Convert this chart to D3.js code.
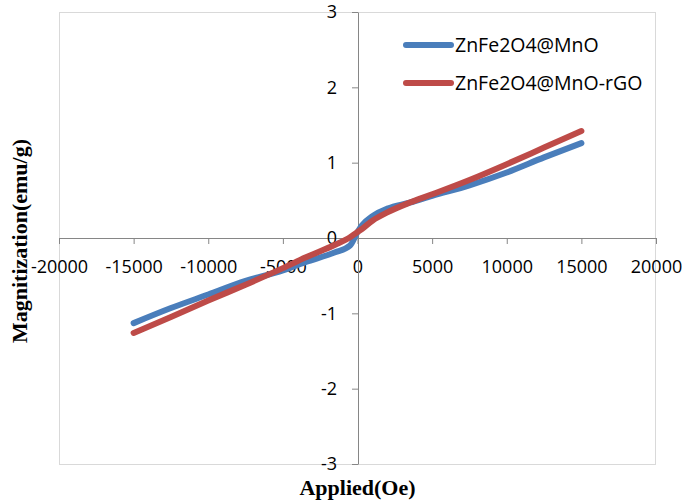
<!DOCTYPE html>
<html>
<head>
<meta charset="utf-8">
<script src="https://cdn.jsdelivr.net/npm/d3@7"></script>
<style>
  body { margin: 0; background: #fff; }
  svg { display: block; }
</style>
</head>
<body>
<div id="chart"></div>
<script>
// applied field (Oe) and magnetization (emu/g)
var fieldOe = [-15000, -12500, -10000, -7500, -5000, -3500, -1500, -500, 0, 300, 1000, 2000, 3500, 5000, 7500, 10000, 12500, 15000];
var mnO     = [-1.13, -0.93, -0.75, -0.57, -0.43, -0.32, -0.19, -0.10, 0.08, 0.17, 0.29, 0.39, 0.47, 0.56, 0.70, 0.87, 1.07, 1.26];
var mnOrGO  = [-1.26, -1.05, -0.83, -0.62, -0.40, -0.26, -0.09, 0.01, 0.08, 0.12, 0.23, 0.34, 0.47, 0.58, 0.77, 0.98, 1.20, 1.42];
var seriesNames = ["ZnFe2O4@MnO", "ZnFe2O4@MnO-rGO"];
var xTicks = [-20000, -15000, -10000, -5000, 0, 5000, 10000, 15000, 20000];
var yTicks = [-3, -2, -1, 0, 1, 2, 3];

var width = 685, height = 502;
var colors = ["#4a7ebb", "#be4b48"];

var svg = d3.select("#chart").append("svg")
  .attr("width", width)
  .attr("height", height);

var xScale = d3.scaleLinear().domain([-20000, 20000]).range([59, 656]);
var yScale = d3.scaleLinear().domain([-3, 3]).range([464, 12]);

// plot area border
svg.append("rect")
  .attr("x", 59.5).attr("y", 12.5)
  .attr("width", 596).attr("height", 452)
  .attr("fill", "none")
  .attr("stroke", "#d9d9d9");

var xAxis = d3.axisBottom(xScale).tickValues(xTicks).tickSize(6).tickSizeOuter(0).tickPadding(16)
  .tickFormat(function(d) { return d < 0 ? "-" + Math.abs(d) : d; });
var yAxis = d3.axisLeft(yScale).tickValues(yTicks).tickSize(6).tickSizeOuter(0).tickPadding(15)
  .tickFormat(function(d) { return d < 0 ? "-" + Math.abs(d) : d; });

var gx = svg.append("g")
  .attr("transform", "translate(0," + yScale(0) + ")")
  .call(xAxis);
var gy = svg.append("g")
  .attr("transform", "translate(" + Math.round(xScale(0)) + ",0)")
  .call(yAxis);

[gx, gy].forEach(function(g) {
  g.select(".domain").attr("stroke", "#868686");
  g.selectAll(".tick line").attr("stroke", "#868686");
  g.selectAll("text")
    .attr("fill", "#000")
    .style("font-family", "'Open Sans', sans-serif")
    .style("font-size", "18px");
});

var line = d3.line()
  .x(function(d) { return xScale(d.x); })
  .y(function(d) { return yScale(d.y); })
  .curve(d3.curveMonotoneX);

[mnO, mnOrGO].forEach(function(vals, i) {
  var data = [];
  for (var k = 0; k < fieldOe.length; k++) {
    data.push({ x: fieldOe[k], y: vals[k] });
  }
  svg.append("path")
    .attr("d", line(data))
    .attr("fill", "none")
    .attr("stroke", colors[i])
    .attr("stroke-width", 6)
    .attr("stroke-linecap", "round")
    .attr("stroke-linejoin", "round");
});

// legend
var legend = svg.append("g");
seriesNames.forEach(function(name, i) {
  var y = 45 + i * 38;
  legend.append("line")
    .attr("x1", 406).attr("x2", 451)
    .attr("y1", y).attr("y2", y)
    .attr("stroke", colors[i])
    .attr("stroke-width", 6)
    .attr("stroke-linecap", "round");
  legend.append("text")
    .attr("x", 455).attr("y", y + 7)
    .style("font-family", "'Open Sans', sans-serif")
    .style("font-size", "19.5px")
    .text(name);
});

// axis titles
svg.append("text")
  .attr("x", xScale(0)).attr("y", 495)
  .attr("text-anchor", "middle")
  .style("font-family", "'Liberation Serif', serif")
  .style("font-weight", "bold")
  .style("font-size", "22px")
  .text("Applied(Oe)");

svg.append("text")
  .attr("transform", "translate(27," + 241 + ") rotate(-90)")
  .attr("text-anchor", "middle")
  .style("font-family", "'Liberation Serif', serif")
  .style("font-weight", "bold")
  .style("font-size", "22px")
  .text("Magnitization(emu/g)");
</script>
</body>
</html>
